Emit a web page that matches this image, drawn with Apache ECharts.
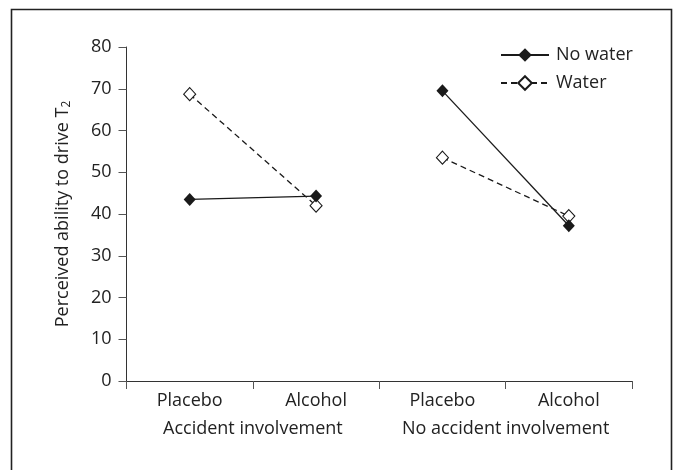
<!DOCTYPE html>
<html><head><meta charset="utf-8">
<script src="https://cdn.jsdelivr.net/npm/echarts@6/dist/echarts.min.js"></script>
<style>html,body{margin:0;padding:0;background:#fff}#c{width:676px;height:470px}</style>
</head><body><div id="c"></div>
<script>
var conditions = ['Placebo', 'Alcohol', 'Placebo', 'Alcohol'];
var groups = ['Accident involvement', 'No accident involvement'];
var yTicks = [0, 80, 10];
var noWaterAccident = [43.5, 44.3, '-', '-'];
var noWaterNoAccident = ['-', '-', 69.5, 37.2];
var waterAccident = [68.7, 42.0, '-', '-'];
var waterNoAccident = ['-', '-', 53.5, 39.5];

var FONT = 'Open Sans';
var FS = 18;
var chart = echarts.init(document.getElementById('c'), null, {renderer: 'canvas'});
function lineSeries(name, data, filled) {
  return {
    name: name, type: 'line', data: data, xAxisIndex: 0,
    symbol: 'diamond', symbolSize: [12, 13], connectNulls: false,
    lineStyle: {color: '#1a1a1a', width: 1.3, type: filled ? 'solid' : [6, 4]},
    itemStyle: {color: filled ? '#1a1a1a' : '#ffffff', borderColor: '#1a1a1a', borderWidth: filled ? 0 : 1.1},
    z: filled ? 3 : 2, animation: false
  };
}
chart.setOption({
  animation: false,
  textStyle: {fontFamily: FONT},
  graphic: [{type: 'rect', shape: {x: 11.5, y: 9.5, width: 660, height: 480}, style: {fill: 'none', stroke: '#222', lineWidth: 1.6}, z: 0}],
  grid: {left: 126.5, right: 44, top: 47, bottom: 89},
  legend: {
    orient: 'vertical', left: 495, top: 41, itemWidth: 48, itemHeight: 17, itemGap: 10,
    textStyle: {fontFamily: FONT, fontSize: FS, color: '#222', padding: [0, 0, 0, 2]},
    data: ['No water', 'Water']
  },
  xAxis: [{
    type: 'category', data: conditions, boundaryGap: true,
    axisLine: {lineStyle: {color: '#333', width: 1}},
    axisTick: {show: true, length: 8, lineStyle: {color: '#555'}},
    axisLabel: {fontFamily: FONT, fontSize: FS, color: '#222', margin: 11, interval: 0}
  }, {
    type: 'category', data: groups, position: 'bottom', boundaryGap: true,
    axisLine: {show: false}, axisTick: {show: false},
    axisLabel: {fontFamily: FONT, fontSize: FS, color: '#222', margin: 39, interval: 0, hideOverlap: false}
  }],
  yAxis: {
    type: 'value', min: yTicks[0], max: yTicks[1], interval: yTicks[2],
    axisLine: {show: true, lineStyle: {color: '#333', width: 1}},
    axisTick: {show: true, length: 8, lineStyle: {color: '#555'}},
    splitLine: {show: false},
    axisLabel: {fontFamily: FONT, fontSize: FS, color: '#222', margin: 15},
    name: '{a|Perceived ability to drive T}{s|2}', nameLocation: 'middle', nameGap: 54,
    nameRotate: 90,
    nameTextStyle: {rich: {a: {fontFamily: FONT, fontSize: FS, color: '#222'}, s: {fontFamily: FONT, fontSize: 12, color: '#222', padding: [8, 0, 0, 0]}}}
  },
  series: [
    lineSeries('No water', noWaterAccident, true),
    lineSeries('No water', noWaterNoAccident, true),
    lineSeries('Water', waterAccident, false),
    lineSeries('Water', waterNoAccident, false)
  ]
});
</script></body></html>
